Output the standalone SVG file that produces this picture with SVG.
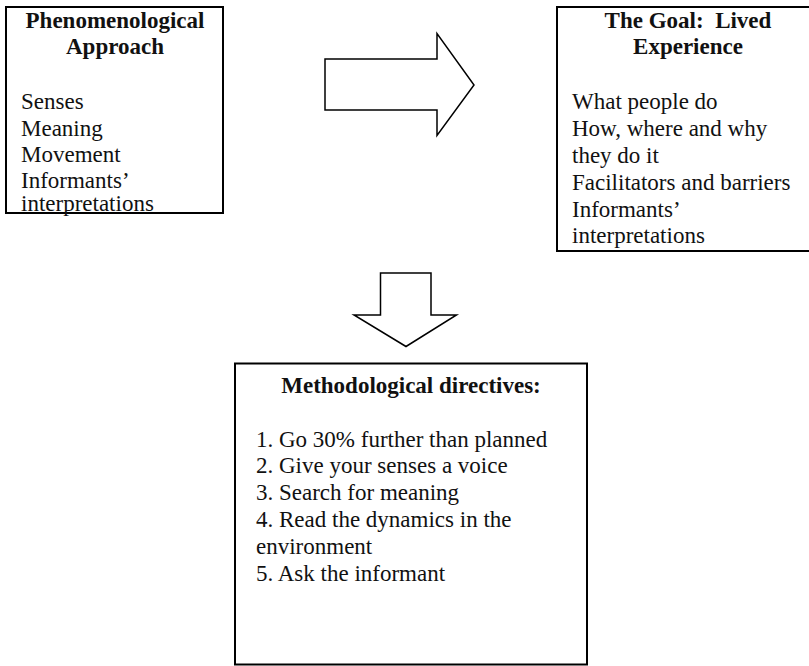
<svg xmlns="http://www.w3.org/2000/svg" width="809" height="666" viewBox="0 0 809 666">
  <style>
    .box { fill: #ffffff; stroke: #000000; stroke-width: 2; }
    .arrow { fill: #ffffff; stroke: #000000; stroke-width: 1.5; stroke-linejoin: miter; }
    text { font-family: "Liberation Serif", "Times New Roman", serif; font-size: 23px; fill: #111111; }
    .head { font-weight: bold; text-anchor: middle; }
  </style>
  <rect width="809" height="666" fill="#ffffff"/>

  <!-- Block arrows between the boxes -->
  <g id="connectors">
    <path class="arrow" d="M325,59 L437,59 L437,33.5 L474,85 L437,135.5 L437,110 L325,110 Z"/>
    <path class="arrow" d="M380.5,273 L431,273 L431,315 L456.5,315 L406,346.5 L354,315 L380.5,315 Z"/>
  </g>

  <g id="phenomenological-approach">
    <rect class="box" x="6" y="7" width="217" height="206"/>
    <text class="head" x="115" y="28">Phenomenological</text>
    <text class="head" x="115" y="54">Approach</text>
    <text x="21" y="109">Senses</text>
    <text x="21" y="135.5">Meaning</text>
    <text x="21" y="162">Movement</text>
    <text x="21" y="187.5">Informants’</text>
    <text x="21" y="210.5">interpretations</text>
  </g>

  <g id="lived-experience">
    <rect class="box" x="557" y="7" width="263" height="244"/>
    <text class="head" x="688" y="28" xml:space="preserve">The Goal:  Lived</text>
    <text class="head" x="688" y="54">Experience</text>
    <text x="572" y="109">What people do</text>
    <text x="572" y="136">How, where and why</text>
    <text x="572" y="163">they do it</text>
    <text x="572" y="190">Facilitators and barriers</text>
    <text x="572" y="216.5">Informants’</text>
    <text x="572" y="243">interpretations</text>
  </g>

  <g id="methodological-directives">
    <rect class="box" x="235" y="363.5" width="352" height="301"/>
    <text class="head" x="411" y="393">Methodological directives:</text>
    <text x="256" y="446.5">1. Go 30% further than planned</text>
    <text x="256" y="473">2. Give your senses a voice</text>
    <text x="256" y="500">3. Search for meaning</text>
    <text x="256" y="526.5">4. Read the dynamics in the</text>
    <text x="256" y="554">environment</text>
    <text x="256" y="580.5">5. Ask the informant</text>
  </g>
</svg>
